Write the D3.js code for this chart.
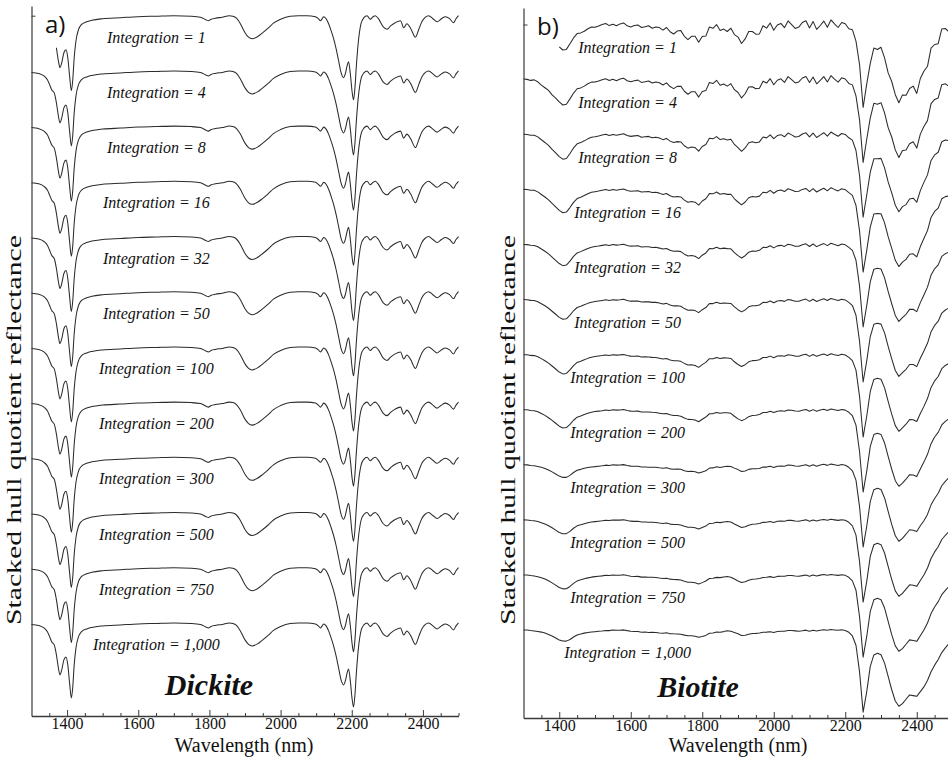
<!DOCTYPE html>
<html>
<head>
<meta charset="utf-8">
<script src="https://cdnjs.cloudflare.com/ajax/libs/d3/7.8.5/d3.min.js"></script>
<style>
body{margin:0;background:#fff}
svg text{font-family:"Liberation Serif","Times New Roman",serif;fill:#111}
.axis path,.axis line{stroke:#3a3a3a}
.curve{fill:none;stroke:#2b2b2b;stroke-width:1.05;stroke-linejoin:round}
</style>
</head>
<body>
<svg id="svg" width="948" height="759"></svg>
<script>
// integration levels, top curve first
var integrations=["1","4","8","16","32","50","100","200","300","500","750","1,000"];
var xLabelTicks=[1400,1600,1800,2000,2200,2400];
var xMinorTicks=[1350,1450,1500,1550,1650,1700,1750,1850,1900,1950,2050,2100,2150,2250,2300,2350,2450,2500];

// dickite hull quotient (same shape at every integration)
var dickiteWl=[1300,1320,1335,1345,1350,1357,1364,1370,1376,1380,
  1385,1391,1397,1402,1407,1412,1416,1420,1425,1432,
  1440,1455,1470,1500,1550,1600,1650,1700,1750,1775,
  1790,1797,1805,1817,1836,1856,1866,1876,1887,1900,
  1910,1920,1935,1950,1965,1980,2000,2027,2050,2074,
  2098,2106,2112,2117,2121,2128,2135,2142,2149,2156,
  2163,2170,2177,2182,2187,2191,2196,2201,2205,2209,
  2213,2218,2226,2234,2243,2252,2260,2266,2275,2288,
  2299,2310,2322,2337,2346,2355,2366,2379,2388,2397,
  2407,2416,2428,2440,2452,2463,2475,2486,2493,2500];
var dickiteHq=[.985,.975,.95,.91,.87,.81,.78,.68,.54,.48,
  .53,.63,.66,.58,.40,.25,.36,.58,.75,.86,
  .91,.94,.955,.97,.98,.99,.995,1,.995,.985,
  .96,.95,.965,.975,.985,1,.995,.975,.92,.83,
  .785,.77,.79,.83,.875,.925,.965,.995,1,1,
  .99,.97,.95,.97,.99,.97,.92,.85,.77,.67,
  .55,.43,.38,.42,.50,.54,.42,.24,.16,.28,
  .50,.72,.92,.98,1,.965,.99,1,.97,.89,
  .865,.90,.93,.95,.88,.92,.87,.785,.86,.94,
  .985,1,.97,.94,.97,.99,.97,.93,.97,1];
var dickiteStart=[1367,1300,1300,1300,1300,1300,1300,1300,1300,1300,1300,1300];

// biotite, 10 nm steps
var biotiteWl=[1300,1310,1320,1330,1340,1350,1360,1370,1380,1390,
  1400,1410,1420,1430,1440,1450,1460,1470,1480,1490,
  1500,1510,1520,1530,1540,1550,1560,1570,1580,1590,
  1600,1610,1620,1630,1640,1650,1660,1670,1680,1690,
  1700,1710,1720,1730,1740,1750,1760,1770,1780,1790,
  1800,1810,1820,1830,1840,1850,1860,1870,1880,1890,
  1900,1910,1920,1930,1940,1950,1960,1970,1980,1990,
  2000,2010,2020,2030,2040,2050,2060,2070,2080,2090,
  2100,2110,2120,2130,2140,2150,2160,2170,2180,2190,
  2200,2210,2220,2230,2240,2250,2260,2270,2280,2290,
  2300,2310,2320,2330,2340,2350,2360,2370,2380,2390,
  2400,2410,2420,2430,2440,2450,2460,2470,2480,2490,2500];
// integration = 1,000 curve
var biotiteHq=[1,1,.995,.99,.985,.98,.97,.955,.94,.92,
  .90,.89,.89,.905,.93,.95,.96,.97,.975,.98,
  .985,.988,.99,.995,.995,1,1,.997,1,.995,
  .99,.985,.985,.98,.98,.975,.98,.975,.97,.97,
  .97,.965,.965,.96,.955,.95,.945,.94,.935,.93,
  .935,.95,.965,.97,.975,.98,.985,.995,.985,.975,
  .96,.95,.95,.955,.965,.97,.975,.975,.98,.98,
  .98,.985,.985,.99,.99,.995,.995,.99,.99,.995,
  .99,.995,.995,1,1,1,1,1,1,1,
  .995,.98,.94,.85,.58,.18,.38,.64,.75,.77,
  .75,.67,.54,.40,.29,.24,.26,.31,.35,.34,
  .34,.38,.43,.50,.58,.65,.71,.77,.82,.87,.91];
// extra band depth seen at low integration
var biotiteVar=[0,0,0,0,-.01,-.03,-.05,-.07,-.09,-.11,
  -.13,-.14,-.13,-.10,-.07,-.05,-.04,-.03,-.02,-.01,
  0,0,0,0,0,0,0,0,0,0,
  0,0,0,0,0,0,-.005,-.005,-.01,-.015,
  -.02,-.025,-.03,-.04,-.05,-.06,-.07,-.08,-.09,-.09,
  -.06,-.03,-.02,-.02,-.02,-.02,-.025,-.035,-.05,-.08,
  -.11,-.10,-.08,-.06,-.045,-.035,-.025,-.015,-.01,-.005,
  0,0,0,0,0,0,0,0,0,0,
  0,0,0,0,0,0,0,0,0,0,
  0,0,0,0,0,0,0,0,0,0,
  0,0,0,0,0,0,0,0,0,0,
  0,.04,.09,.13,.15,.16,.15,.14,.12,.10,.08];
var biotiteVarWeight=[1,1,.95,.85,.7,.6,.57,.5,.1,.2,.2,0];
// jitter of the integration = 1 curve
var biotiteNoise=[.006,.002,-.004,.008,.003,-.006,-.002,.007,-.003,.004,
  .007,-.005,-.009,.002,.006,.009,-.004,-.007,.003,.005,
  -.012,-.004,.010,.015,-.006,.003,-.013,.009,.016,-.008,
  -.014,.004,.011,-.010,-.003,.013,-.012,.006,.009,-.011,
  .020,-.012,-.030,.014,.034,-.008,-.026,.022,.038,-.018,
  .006,-.036,.030,.012,.044,-.020,-.006,-.030,.028,.004,
  .024,-.040,-.014,.036,.010,-.032,-.044,.028,-.006,.040,
  -.038,.010,.026,-.022,.046,.004,-.034,-.016,.030,.042,
  -.024,.036,-.044,-.010,.034,-.028,.046,.006,-.030,.020,
  .012,-.022,.008,-.016,.020,-.010,.024,-.028,.014,-.020,
  .022,-.004,-.024,.030,.008,-.022,.036,-.018,.010,.044,
  -.030,.040,.012,-.048,.034,-.010,-.052,.046,.020,-.044,.030];
var biotiteNoiseAmp=[1,.85,.55,.42,.32,.28,.24,.2,.17,.14,.12,.1];
var biotiteStart=[1392,1300,1300,1300,1300,1300,1300,1300,1300,1300,1300,1300];

var svg=d3.select("#svg");

function drawPanel(p){
    var g=svg.append("g");
    var x=d3.scaleLinear().domain([1300,2500]).range([p.left,p.right]);
    var y=d3.scaleLinear().domain(p.vDomain).range([p.bottom,p.top]);
    var line=d3.line().x(d=>x(d[0])).y(d=>y(d[1])).curve(p.curve);

    g.selectAll(".curve")
        .data(p.series).enter().append("path")
            .attr("class","curve")
            .attr("d",d=>line(d))

    g.selectAll(".intlabel")
        .data(integrations).enter().append("text")
            .attr("class","intlabel")
            .attr("x",x(p.labelWl))
            .attr("y",(d,i)=>y(1-i*p.step)+p.labelDy)
            .attr("text-anchor","middle")
            .style("font-style","italic")
            .style("font-size","16px")
            .text(d=>"Integration = "+d)

    // x axis, ticks point inward
    g.append("g").attr("class","axis")
        .attr("transform","translate(0,"+p.bottom+")")
        .call(d3.axisBottom(x).tickValues(xMinorTicks).tickSize(-3).tickSizeOuter(0).tickFormat(""))
        .select(".domain").remove()
    var ax=g.append("g").attr("class","axis")
        .attr("transform","translate(0,"+p.bottom+")")
        .call(d3.axisBottom(x).tickValues(xLabelTicks).tickSize(-6).tickSizeOuter(0).tickPadding(2).tickFormat(d3.format("d")))
    ax.select(".domain").style("stroke-width","1.6")
    ax.selectAll("text").style("font-size","16px").style("font-family","'Liberation Serif',serif").attr("fill","#111")

    // y axis: bare line with one tick
    var ay=g.append("g").attr("class","axis")
        .attr("transform","translate("+p.left+",0)")
        .call(d3.axisRight(y).tickValues([1]).tickSize(4).tickSizeOuter(0).tickFormat(""))
    ay.select(".domain").style("stroke-width","1.2")

    // the printed label is stretched along its length
    g.append("text")
        .attr("transform","translate("+p.yLabelX+",430) rotate(-90)")
        .attr("text-anchor","middle")
        .attr("textLength",390)
        .attr("lengthAdjust","spacingAndGlyphs")
        .style("font-size","21px")
        .text("Stacked hull quotient reflectance")

    g.append("text")
        .attr("x",p.axisTitleX)
        .attr("y",752)
        .attr("text-anchor","middle")
        .style("font-size","20px")
        .text("Wavelength (nm)")

    g.append("text")
        .attr("x",p.nameX).attr("y",p.nameY)
        .attr("text-anchor","middle")
        .style("font-size","30px").style("font-weight","bold").style("font-style","italic")
        .text(p.name)

    g.append("text")
        .attr("x",p.tagX).attr("y",p.tagY)
        .style("font-family","'Open Sans',sans-serif")
        .style("font-size","24px")
        .text(p.tag)
}

var stepA=0.552, stepB=0.5505;
drawPanel({
    left:31.5,right:458.5,top:6,bottom:716,vDomain:[-6.003,1.097],step:stepA,curve:d3.curveMonotoneX,
    series:integrations.map((n,i)=>dickiteWl.map((w,j)=>[w,dickiteHq[j]-i*stepA]).filter(d=>d[0]>=dickiteStart[i])),
    labelWl:1651,labelDy:27,yLabelX:21,axisTitleX:244,
    name:"Dickite",nameX:209,nameY:695,tag:"a)",tagX:45,tagY:33
});
drawPanel({
    left:523.5,right:952.5,top:8,bottom:718,vDomain:[-5.935,1.165],step:stepB,curve:d3.curveLinear,
    series:integrations.map((n,i)=>biotiteWl.map((w,j)=>[w,biotiteHq[j]+biotiteVarWeight[i]*biotiteVar[j]+biotiteNoiseAmp[i]*biotiteNoise[j]-i*stepB]).filter(d=>d[0]>=biotiteStart[i])),
    labelWl:1591,labelDy:28,yLabelX:515,axisTitleX:738,
    name:"Biotite",nameX:698,nameY:697,tag:"b)",tagX:537,tagY:35
});
</script>
</body>
</html>
